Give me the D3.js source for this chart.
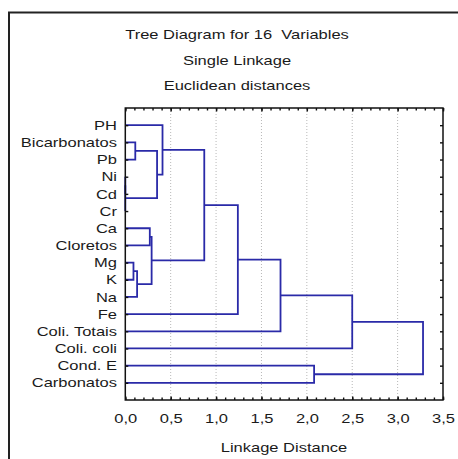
<!DOCTYPE html>
<html><head><meta charset="utf-8">
<script src="https://cdn.jsdelivr.net/npm/d3@7"></script>
<style>
html,body{margin:0;padding:0;background:#fff;}
svg{display:block;}
text{font-family:"Liberation Sans",Arial,sans-serif;font-size:13px;fill:#1a1a1a;white-space:pre;}
</style></head>
<body>
<script>
// ---- data ----
const variables = ["PH","Bicarbonatos","Pb","Ni","Cd","Cr","Ca","Cloretos","Mg","K","Na","Fe","Coli. Totais","Coli. coli","Cond. E","Carbonatos"];
// merges: node id = 16 + index
const mergeLeft  = [3, 16, 8, 1, 18, 6, 21, 19, 0, 24, 25, 26, 14, 27, 29];
const mergeRight = [4, 5, 9, 2, 10, 7, 20, 17, 23, 22, 11, 12, 15, 13, 28];
const mergeDistance = [0, 0, 0.09, 0.11, 0.13, 0.27, 0.29, 0.35, 0.41, 0.87, 1.24, 1.71, 2.08, 2.50, 3.28];
const majorTicks = [0, 0.5, 1.0, 1.5, 2.0, 2.5, 3.0, 3.5];
const tickLabels = ["0,0","0,5","1,0","1,5","2,0","2,5","3,0","3,5"];
const titleLines = ["Tree Diagram for 16  Variables","Single Linkage","Euclidean distances"];
const xTitle = "Linkage Distance";

// ---- layout ----
const W = 458, H = 459;
const L = 125.3, R = 443, T = 108, B = 400;
const SX = 1.27;
const blue = "#2a2aa8";

const svg = d3.select("body").append("svg").attr("width", W).attr("height", H);

// outer border (only left/top visible)
svg.append("path").attr("d", `M9,${H+5} V12.5 H${W+5}`).attr("fill","none").attr("stroke","#222").attr("stroke-width",2);

const x = d3.scaleLinear().domain([0, 3.5]).range([L, R]);
const y = d3.scalePoint().domain(variables).range([T, B]).padding(1);

// title
svg.selectAll("text.title").data(titleLines).join("text")
  .attr("class","title")
  .attr("text-anchor","middle")
  .attr("xml:space","preserve")
  .attr("transform",(d,i)=>`translate(237,${39 + i*25.5}) scale(${SX},1)`)
  .text(d=>d);

// gridlines
svg.append("g").selectAll("line").data(majorTicks.slice(1, -1)).join("line")
  .attr("x1", d=>x(d)).attr("x2", d=>x(d)).attr("y1", T).attr("y2", B)
  .attr("stroke","#b8b8b8").attr("stroke-width",1).attr("stroke-dasharray","1,2");

// dendrogram
const nodeY = variables.map(v => y(v));
const nodeH = variables.map(() => 0);
const paths = [];
mergeLeft.forEach((a, i) => {
  const b = mergeRight[i], d = mergeDistance[i];
  const ya = nodeY[a], yb = nodeY[b];
  paths.push(`M${x(nodeH[a])},${ya}H${x(d)}V${yb}H${x(nodeH[b])}`);
  nodeY.push((ya + yb) / 2);
  nodeH.push(d);
});
svg.append("g").selectAll("path").data(paths).join("path")
  .attr("d", d=>d).attr("fill","none").attr("stroke",blue).attr("stroke-width",1.8);

// axes (inside ticks)
const minor = d3.range(0, 36).map(i => i/10);
svg.append("g").attr("transform",`translate(0,${T})`)
  .call(d3.axisTop(x).tickValues(minor).tickSize(-2.5).tickFormat(""))
  .call(g=>g.select(".domain").remove());
svg.append("g").attr("transform",`translate(0,${B})`)
  .call(d3.axisBottom(x).tickValues(minor).tickSize(-2.5).tickFormat(""))
  .call(g=>g.select(".domain").remove());
svg.append("g").attr("transform",`translate(0,${T})`)
  .call(d3.axisTop(x).tickValues(majorTicks).tickSize(-3.5).tickFormat(""))
  .call(g=>g.select(".domain").remove());
svg.append("g").attr("transform",`translate(0,${B})`)
  .call(d3.axisBottom(x).tickValues(majorTicks).tickSize(-3.5).tickFormat((d,i)=>tickLabels[i]))
  .call(g=>g.select(".domain").remove())
  .call(g=>g.selectAll("text").attr("y",null).attr("dy",null)
      .attr("transform",`translate(0,22.5) scale(${SX},1)`)
      .style("font-size","13px").attr("fill","#1a1a1a").style("font-family","Liberation Sans, Arial, sans-serif"));
svg.append("g").attr("transform",`translate(${L},0)`)
  .call(d3.axisLeft(y).tickSize(-3))
  .call(g=>g.select(".domain").remove())
  .call(g=>g.selectAll("text").attr("x",null)
      .attr("transform",`translate(-8.3,0) scale(${SX},1)`)
      .style("font-size","13px").attr("fill","#1a1a1a").style("font-family","Liberation Sans, Arial, sans-serif"));
svg.append("g").attr("transform",`translate(${R},0)`)
  .call(d3.axisRight(y).tickSize(-3).tickFormat(""))
  .call(g=>g.select(".domain").remove());
svg.selectAll(".tick line").attr("stroke","#111").attr("stroke-width",1.4);

// frame
svg.append("rect").attr("x",L).attr("y",T).attr("width",R-L).attr("height",B-T)
  .attr("fill","none").attr("stroke","#111").attr("stroke-width",1.5);

// x axis title
svg.append("text").attr("text-anchor","middle")
  .attr("transform",`translate(284,451.5) scale(${SX},1)`).text(xTitle);
</script>
</body></html>
